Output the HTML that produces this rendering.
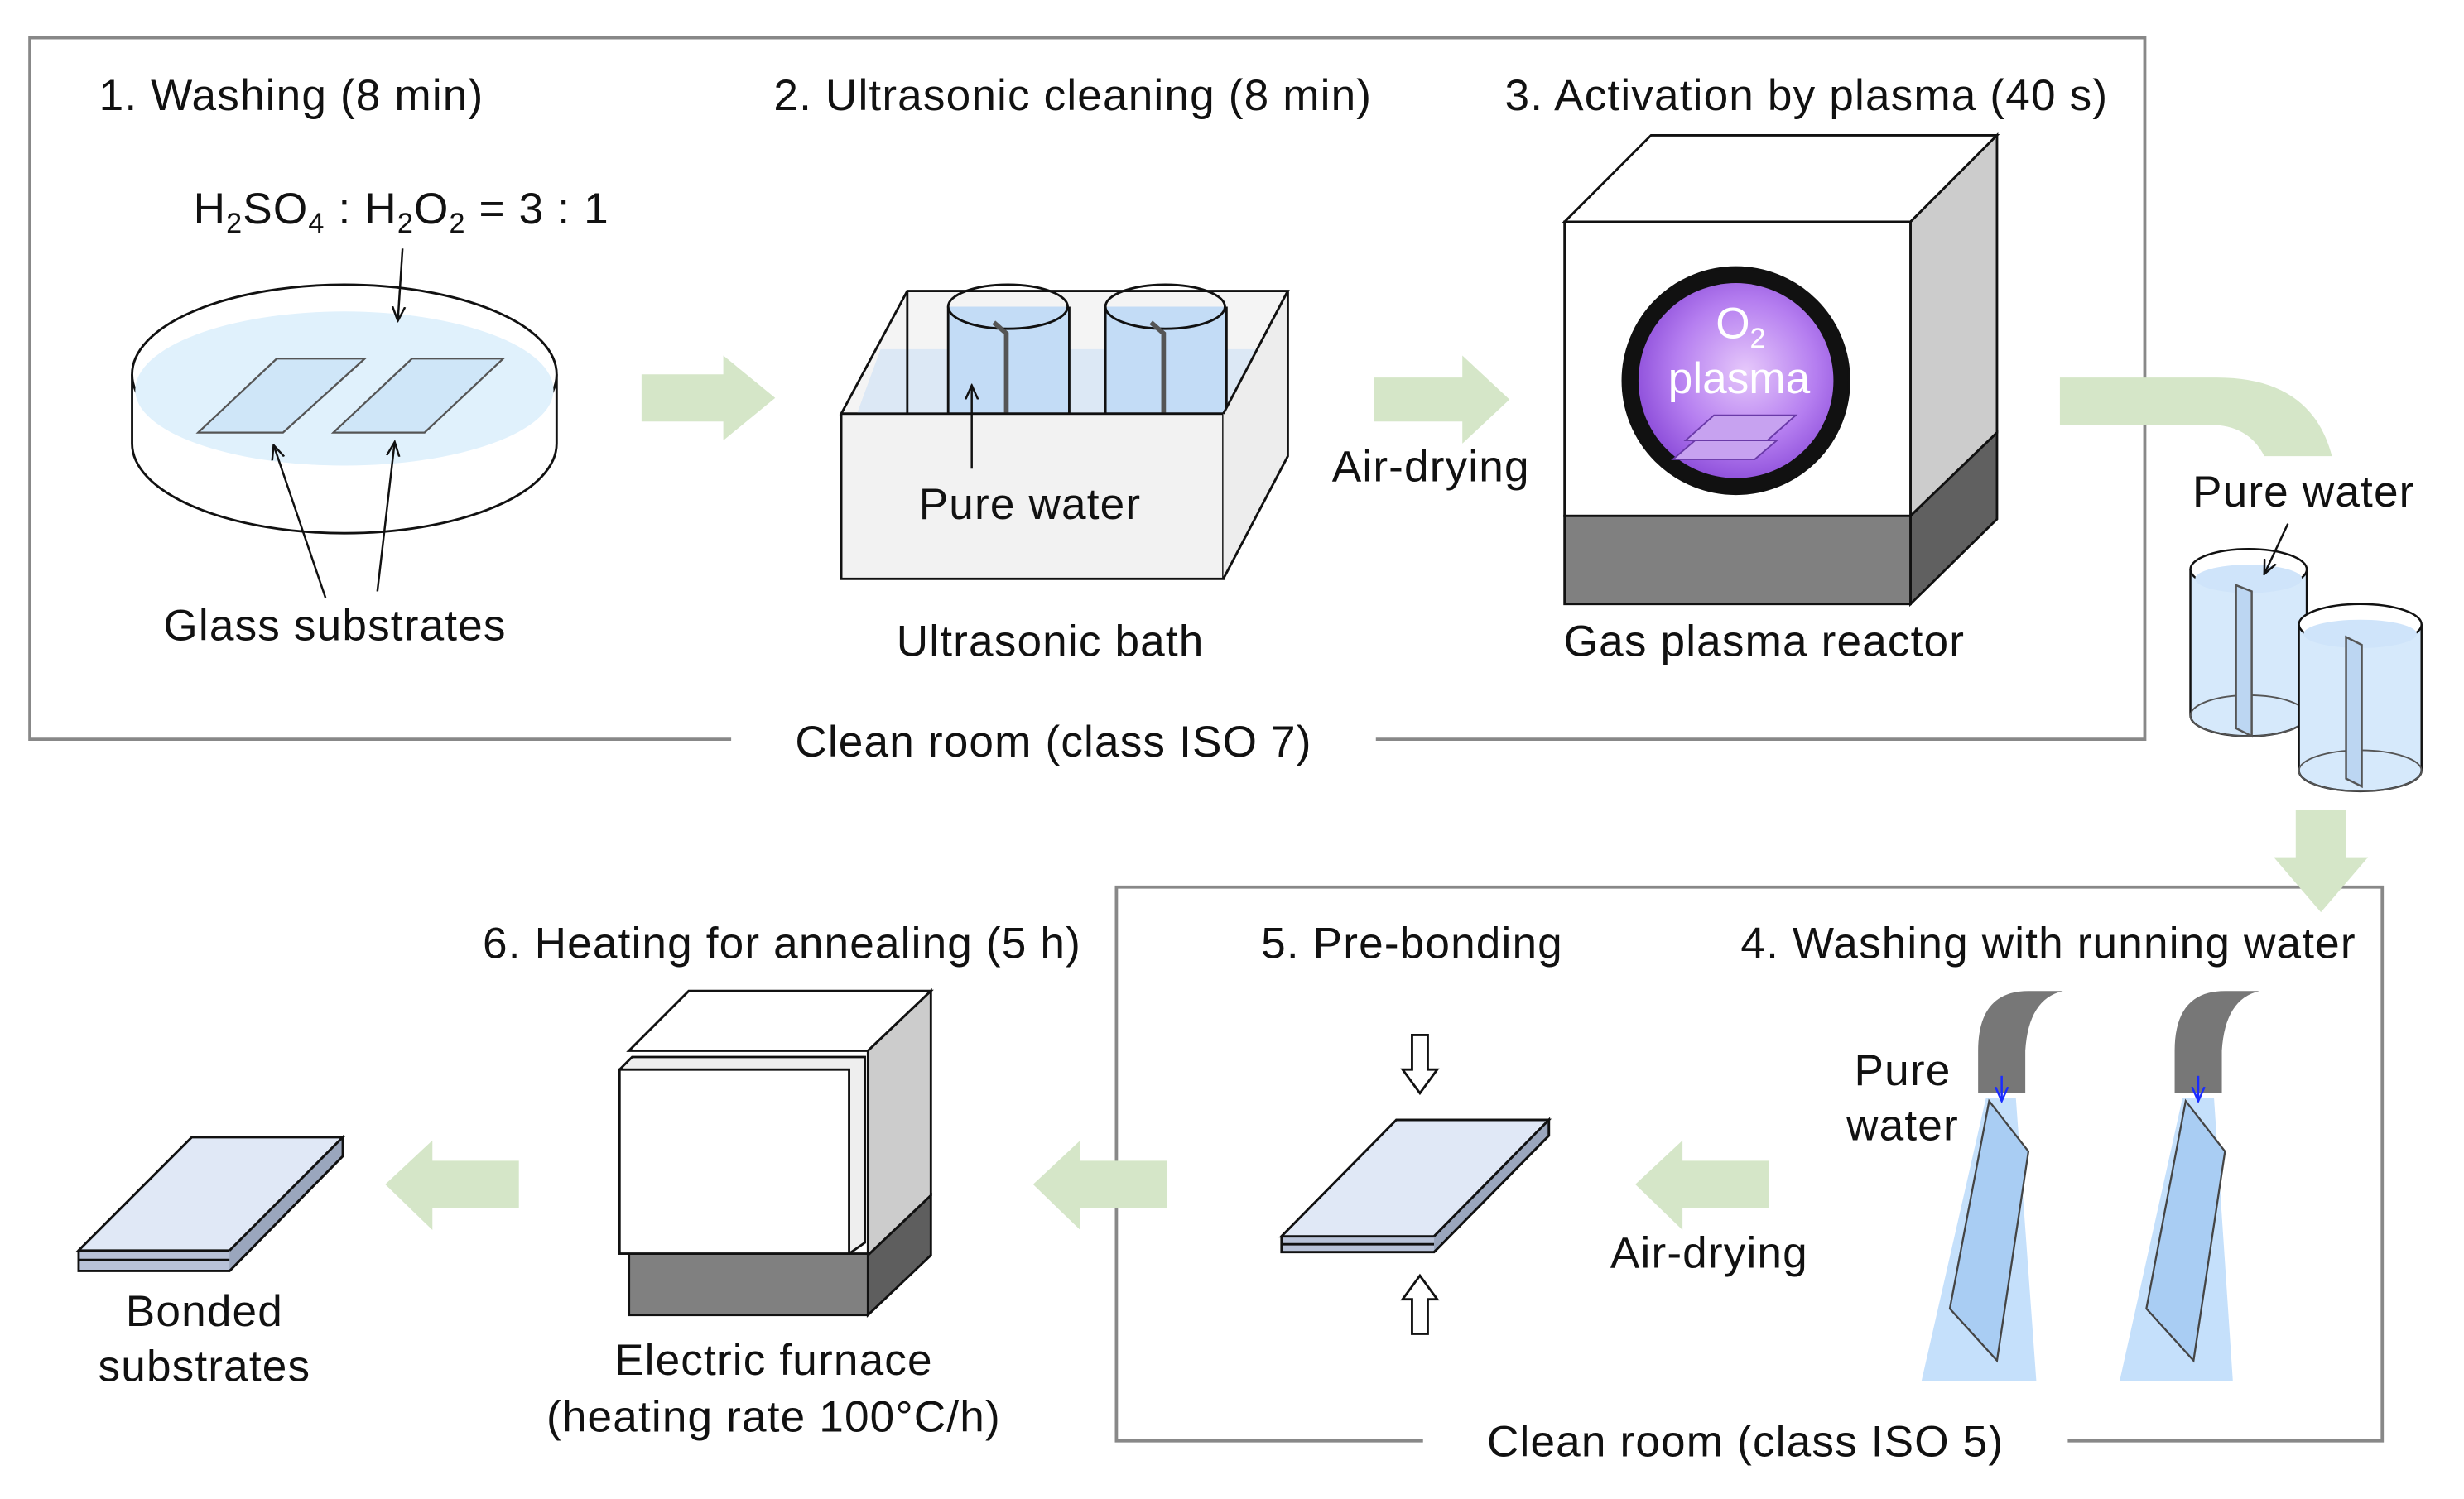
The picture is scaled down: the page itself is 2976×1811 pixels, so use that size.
<!DOCTYPE html>
<html><head><meta charset="utf-8"><style>
html,body{margin:0;padding:0;background:#fff}
svg{display:block}
text{font-family:"Liberation Sans",sans-serif;fill:#111}
</style></head><body>
<svg width="2976" height="1811" viewBox="0 0 1567 953" preserveAspectRatio="none" xmlns="http://www.w3.org/2000/svg">
<defs>
<radialGradient id="pl" cx="0.55" cy="0.45" r="0.6"><stop offset="0" stop-color="#e6c8fb"/><stop offset="0.6" stop-color="#b57ef0"/><stop offset="1" stop-color="#8a4ad8"/></radialGradient>
<marker id="ah" markerWidth="10" markerHeight="10" refX="9" refY="5" orient="auto" markerUnits="userSpaceOnUse"><path d="M0,1 L9,5 L0,9" fill="none" stroke="#111" stroke-width="1.3"/></marker>
<marker id="bh" markerWidth="10" markerHeight="10" refX="9" refY="5" orient="auto" markerUnits="userSpaceOnUse"><path d="M0,1 L9,5 L0,9" fill="none" stroke="#1a2cff" stroke-width="1.3"/></marker>
</defs>
<g stroke="#888" stroke-width="2" fill="none">
<path d="M465,470 L19,470 L19,24 L1364,24 L1364,470 L875,470"/>
<path d="M905,916 L710,916 L710,564 L1515,564 L1515,916 L1315,916"/>
</g>
<!-- green arrows -->
<g fill="#d5e6c8">
<path d="M408,238 H460 V226 L493,253 L460,280 V268 H408Z"/>
<path d="M874,240 H930 V226 L960,254 L930,282 V268 H874Z"/>
<path d="M1310,240 H1410 Q1470,240 1483,290 H1440 Q1430,270 1405,270 H1310Z"/>
<path d="M1460,515 H1492 V545 H1506 L1476,580 L1446,545 H1460Z"/>
<path d="M1125,738 V768 H1070 V782 L1040,753 L1070,725 V738Z"/>
<path d="M742,738 V768 H687 V782 L657,753 L687,725 V738Z"/>
<path d="M330,738 V768 H275 V782 L245,753 L275,725 V738Z"/>
</g>
<!-- dish -->
<g stroke="#111" stroke-width="1.5">
<path d="M84,238 V282 A135,57 0 0 0 354,282 V238" fill="#fff"/>
<ellipse cx="219" cy="238" rx="135" ry="57" fill="#fff"/>
<path d="M86,248 A133,50 0 0 1 352,248 A133,48 0 0 1 86,248Z" fill="#e0f1fc" stroke="none"/>
<path d="M126,275 L176,228 L232,228 L180,275Z" fill="#cfe6f8" stroke="#555" stroke-width="1.2"/>
<path d="M212,275 L262,228 L320,228 L270,275Z" fill="#cfe6f8" stroke="#555" stroke-width="1.2"/>
<line x1="256" y1="158" x2="253" y2="204" marker-end="url(#ah)" stroke-width="1.3"/>
<line x1="207" y1="380" x2="174" y2="283" marker-end="url(#ah)" stroke-width="1.3"/>
<line x1="240" y1="376" x2="251" y2="281" marker-end="url(#ah)" stroke-width="1.3"/>
</g>
<!-- ultrasonic bath -->
<g stroke="#111" stroke-width="1.5">
<path d="M535,263 L577,185 H819 L778,263Z" fill="#f4f4f4"/>
<path d="M560,222 H815 L800,263 H545Z" fill="#dce8f5" stroke="none"/>
<path d="M577,185 V263" fill="none"/>
<path d="M603,195 V263 H680 V195" fill="#c3dcf6"/>
<ellipse cx="641" cy="195" rx="38" ry="14" fill="none"/>
<path d="M632,205 L640,212 V263" fill="none" stroke="#555" stroke-width="3"/>
<path d="M703,195 V263 H780 V195" fill="#c3dcf6"/>
<ellipse cx="741" cy="195" rx="38" ry="14" fill="none"/>
<path d="M732,205 L740,212 V263" fill="none" stroke="#555" stroke-width="3"/>
<rect x="535" y="263" width="243" height="105" fill="#f2f2f2"/>
<path d="M778,263 L819,185 V290 L778,368" fill="#ededed"/>
<line x1="618" y1="298" x2="618" y2="245" marker-end="url(#ah)" stroke-width="1.3"/>
</g>
<!-- plasma reactor -->
<g stroke="#111" stroke-width="1.5">
<path d="M995,141 L1050,86 H1270 L1215,141Z" fill="#fff"/>
<path d="M1215,141 L1270,86 V275 L1215,328Z" fill="#cccccc"/>
<path d="M1215,328 L1270,275 V330 L1215,384Z" fill="#606060"/>
<rect x="995" y="141" width="220" height="187" fill="#fff"/>
<rect x="995" y="328" width="220" height="56" fill="#808080"/>
<circle cx="1104" cy="242" r="72" fill="#111"/>
<circle cx="1104" cy="242" r="62" fill="url(#pl)" stroke="none"/>
<path d="M1072,280 L1090,264 H1142 L1124,280Z M1064,292 L1078,280 H1130 L1116,292Z" fill="#c7a2f0" stroke="#6a3aa8" stroke-width="1"/>
</g>
<!-- right beakers -->
<g stroke="#111" stroke-width="1.3">
<path d="M1393,362 V455 A37,13 0 0 0 1467,455 V362" fill="#d6e9fb"/>
<ellipse cx="1430" cy="455" rx="37" ry="13" fill="none" stroke="#555" stroke-width="1"/>
<ellipse cx="1430" cy="362" rx="37" ry="13" fill="#fff"/>
<ellipse cx="1430" cy="368" rx="34" ry="9" fill="#cfe4fa" stroke="none"/>
<path d="M1422,372 L1432,376 V468 L1422,463Z" fill="#bcd6f2" stroke="#555"/>
<path d="M1462,397 V490 A39,13 0 0 0 1540,490 V397" fill="#d6e9fb"/>
<ellipse cx="1501" cy="490" rx="39" ry="13" fill="none" stroke="#555" stroke-width="1"/>
<ellipse cx="1501" cy="397" rx="39" ry="13" fill="#fff"/>
<ellipse cx="1501" cy="403" rx="36" ry="9" fill="#cfe4fa" stroke="none"/>
<path d="M1492,405 L1502,410 V500 L1492,495Z" fill="#bcd6f2" stroke="#555"/>
<line x1="1455" y1="333" x2="1440" y2="365" marker-end="url(#ah)"/>
</g>
<!-- faucets and streams -->
<path d="M1263,698 L1282,698 L1295,878 L1222,878Z" fill="#c5e0fb"/>
<path d="M1388,698 L1408,698 L1420,878 L1348,878Z" fill="#c5e0fb"/>
<path d="M1258,695 V668 Q1258,630 1290,630 H1312 Q1290,635 1288,668 V695Z" fill="#777"/>
<path d="M1383,695 V668 Q1383,630 1415,630 H1437 Q1415,635 1413,668 V695Z" fill="#777"/>
<line x1="1273" y1="684" x2="1273" y2="700" stroke="#1a2cff" stroke-width="1.3" marker-end="url(#bh)"/>
<line x1="1398" y1="684" x2="1398" y2="700" stroke="#1a2cff" stroke-width="1.3" marker-end="url(#bh)"/>
<g stroke="#444" stroke-width="1.2">
<path d="M1265,700 L1290,732 L1270,865 L1240,832Z" fill="#a9cdf3"/>
<path d="M1390,700 L1415,732 L1395,865 L1365,832Z" fill="#a9cdf3"/>
</g>
<!-- pre-bonding -->
<g stroke="#111" stroke-width="1.5">
<path d="M815,786 L888,712 H985 V722 L912,796 H815Z" fill="#b8c2d8"/>
<path d="M815,786 L888,712 H985 L912,786Z" fill="#e0e8f6"/>
<line x1="815" y1="791" x2="912" y2="791"/>
<path d="M912,786 L985,712 V722 L912,796" fill="#9aa6bd"/>
<path d="M898,658 H908 V680 H914 L903,695 L892,680 H898Z" fill="#fff"/>
<path d="M898,848 H908 V826 H914 L903,811 L892,826 H898Z" fill="#fff"/>
</g>
<!-- furnace -->
<g stroke="#111" stroke-width="1.5">
<path d="M400,668 L438,630 H592 L552,668Z" fill="#fff"/>
<path d="M552,668 L592,630 V760 L552,798Z" fill="#cccccc"/>
<path d="M552,798 L592,760 V798 L552,836Z" fill="#5e5e5e"/>
<rect x="400" y="797" width="152" height="39" fill="#808080"/>
<path d="M394,680 L402,672 H550 V790 L540,797" fill="#eee"/>
<rect x="394" y="680" width="146" height="117" fill="#fff"/>
</g>
<!-- bonded -->
<g stroke="#111" stroke-width="1.5">
<path d="M50,795 L122,723 H218 V735 L146,808 H50Z" fill="#b8c2d8"/>
<path d="M50,795 L122,723 H218 L146,795Z" fill="#e0e8f6"/>
<line x1="50" y1="801" x2="146" y2="801"/>
<path d="M146,795 L218,723 V735 L146,808" fill="#9aa6bd"/>
</g>
<!-- texts -->
<g font-size="28" letter-spacing="0.6">
<text x="63" y="70">1. Washing (8 min)</text>
<text x="492" y="70">2. Ultrasonic cleaning (8 min)</text>
<text x="957" y="70">3. Activation by plasma (40 s)</text>
<text x="123" y="142">H<tspan font-size="18" dy="6">2</tspan><tspan dy="-6">SO</tspan><tspan font-size="18" dy="6">4</tspan><tspan dy="-6"> : H</tspan><tspan font-size="18" dy="6">2</tspan><tspan dy="-6">O</tspan><tspan font-size="18" dy="6">2</tspan><tspan dy="-6"> = 3 : 1</tspan></text>
<text x="213" y="407" text-anchor="middle">Glass substrates</text>
<text x="655" y="330" text-anchor="middle">Pure water</text>
<text x="668" y="417" text-anchor="middle">Ultrasonic bath</text>
<text x="910" y="306" text-anchor="middle">Air-drying</text>
<text x="1122" y="417" text-anchor="middle">Gas plasma reactor</text>
<text x="1465" y="322" text-anchor="middle">Pure water</text>
<text x="670" y="481" text-anchor="middle">Clean room (class ISO 7)</text>
<text x="307" y="609">6. Heating for annealing (5 h)</text>
<text x="802" y="609">5. Pre-bonding</text>
<text x="1107" y="609">4. Washing with running water</text>
<text x="1210" y="690" text-anchor="middle">Pure</text>
<text x="1210" y="725" text-anchor="middle">water</text>
<text x="1087" y="806" text-anchor="middle">Air-drying</text>
<text x="130" y="843" text-anchor="middle">Bonded</text>
<text x="130" y="878" text-anchor="middle">substrates</text>
<text x="492" y="874" text-anchor="middle">Electric furnace</text>
<text x="492" y="910" text-anchor="middle">(heating rate 100°C/h)</text>
<text x="1110" y="926" text-anchor="middle">Clean room (class ISO 5)</text>
</g>
<text x="1107" y="215" text-anchor="middle" font-size="28" style="fill:#fff">O<tspan font-size="18" dy="6">2</tspan></text>
<text x="1106" y="250" text-anchor="middle" font-size="28" style="fill:#fff">plasma</text>
</svg>
</body></html>
